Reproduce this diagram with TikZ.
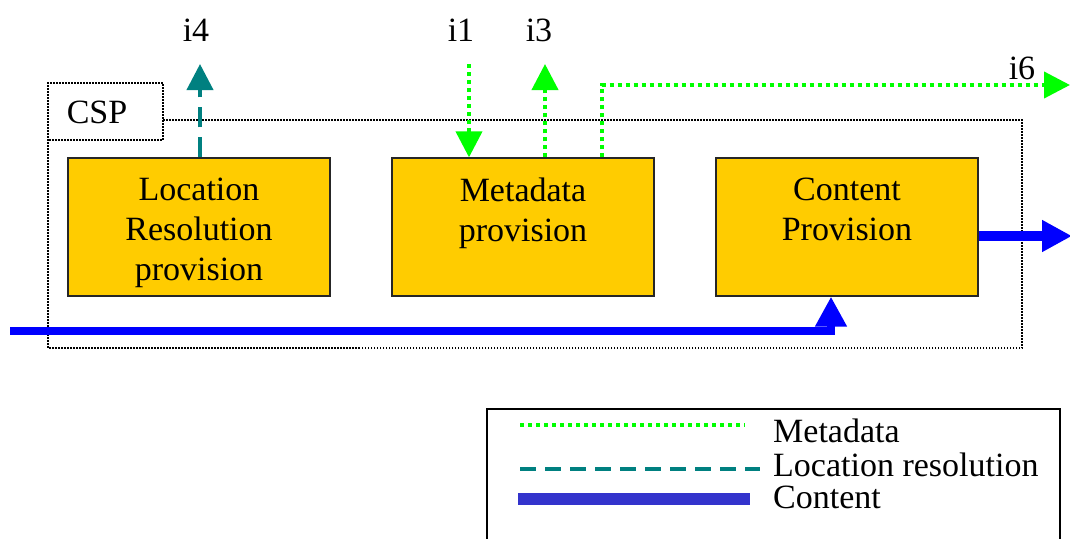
\documentclass[tikz,border=0pt]{standalone}
\usepackage{fontspec}
\setmainfont{Liberation Serif}
\usetikzlibrary{arrows.meta,positioning}

\definecolor{provfill}{HTML}{FFCC00}
\definecolor{metagreen}{HTML}{00FF00}
\definecolor{locteal}{HTML}{008080}
\definecolor{contblue}{HTML}{0000FF}
\definecolor{legblue}{HTML}{3333CC}

\begin{document}
\begin{tikzpicture}[x=1pt,y=-1pt,
  font=\fontsize{34}{40}\selectfont,
  block/.style={draw=black!85,line width=1.3pt,fill=provfill,minimum width=262pt,minimum height=138pt,inner sep=0pt},
  blocktext/.style={align=center,anchor=north,inner sep=0pt,yshift=-20pt},
  metaline/.style={draw=metagreen,line width=4pt,dash pattern=on 4pt off 4pt},
  locline/.style={draw=locteal,line width=4pt,dash pattern=on 20pt off 10pt},
  contline/.style={draw=contblue,line width=9pt},
  smalltip/.style={-{Triangle[width=26pt,length=26pt]}},
  bigtip/.style={-{Triangle[width=30pt,length=30pt]}},
  legtext/.style={anchor=west,inner sep=0pt}]

\clip (0,0) rectangle (1070,538);

% CSP frame
\draw[line width=1.2pt,dash pattern=on 1.5pt off 1.5pt] (163,120) -- (1022,120) -- (1022,348) -- (48,348)
  -- (48,83) -- (163,83) -- (163,140) -- (48,140);
\node (csp) at (97,112) {CSP};

% provision blocks
\node[block] (locres) at (199,227) {};
\node[blocktext] (locrestxt) at (locres.north) {Location\\Resolution\\provision};
\node[block] (meta) at (523,227) {};
\node[blocktext] (metatxt) at (meta.north) {Metadata\\provision};
\node[block] (content) at (847,227) {};
\node[blocktext] (contenttxt) at (content.north) {Content\\Provision};

% interfaces
\node (i4) at (196,30) {i4};
\node (i1) at (461,30) {i1};
\node (i3) at (539,30) {i3};
\node (i6) at (1022,68) {i6};

\coordinate (i4out) at (200,64);
\coordinate (i1in) at (469,64);
\coordinate (i3out) at (545,64);
\coordinate (i6out) at (1070,85);
\coordinate (cout) at (1072,236);
\coordinate (cin) at (10,331);

\draw[locline,smalltip] (locres.north -| i4out) -- (i4out);
\draw[metaline,smalltip] (i1in) -- (i1in |- meta.north);
\draw[metaline,smalltip] (i3out |- meta.north) -- (i3out);
\draw[metaline,smalltip] ([xshift=79pt]meta.north) |- (i6out);
\draw[contline,line width=10pt,bigtip] (content.east |- cout) -- (cout);
\draw[contline,line width=8pt,bigtip] (cin) -| ([xshift=-16pt]content.south);

% legend
\draw[line width=1.5pt] (487,548) -- (487,409) -- (1060,409) -- (1060,548);
\node[legtext] (lmeta) at (773,431) {Metadata};
\node[legtext] (lloc) at (773,465) {Location resolution};
\node[legtext] (lcont) at (773,497) {Content};
\draw[metaline] (520,425) -- (745,425);
\draw[locline,dash pattern=on 16pt off 9pt] (520,469) -- (760,469);
\draw[legblue,line width=12pt] (518,499) -- (750,499);
\end{tikzpicture}
\end{document}
